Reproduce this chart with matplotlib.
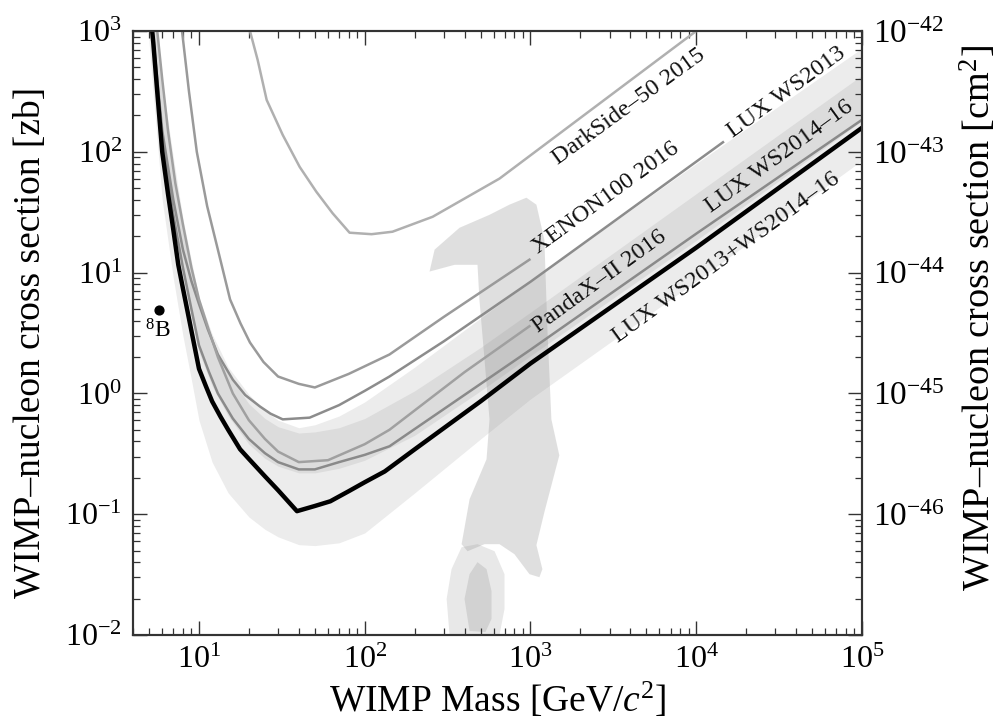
import matplotlib
matplotlib.use("Agg")
import matplotlib.pyplot as plt
from matplotlib.ticker import LogLocator, NullFormatter, FixedLocator, FixedFormatter

plt.rcParams['font.family'] = ['Liberation Serif', 'DejaVu Serif']
plt.rcParams['mathtext.fontset'] = 'custom'
plt.rcParams['mathtext.rm'] = 'Liberation Serif'
plt.rcParams['mathtext.it'] = 'Liberation Serif:italic'

# --- limit curves, WIMP mass [GeV] vs cross section [zb] ---
lux_x = [5.0, 5.3, 5.6, 6.0, 6.5, 7.0, 7.5, 8.0, 9.0, 10.0, 11.0, 12.0, 13.5, 15.0, 17.7, 20.0,
         25.0, 30.0, 39.0, 50.0, 62.0, 80.0, 100.0, 132.0, 200.0, 500.0, 1000.0, 1e4, 1e5]
lux_y = [1860, 800, 313, 100, 45, 22.6, 11.6, 7.4, 3.3, 1.6, 1.15, 0.86, 0.64, 0.50, 0.345, 0.287,
         0.206, 0.158, 0.106, 0.117, 0.128, 0.155, 0.184, 0.226, 0.344, 0.86, 1.77, 16.1, 158]

ws13_x = [5.1, 5.6, 6.0, 7.0, 8.0, 9.0, 10.0, 11.3, 13.0, 16.0, 19.0, 23.3, 27.0, 32.0, 46.5,
          70.0, 100.0, 141.0, 300.0, 1000.0, 3000.0, 14500.0]
ws13_y = [1500, 400, 150, 40, 15.5, 8.5, 5.5, 3.4, 2.1, 1.3, 0.97, 0.78, 0.68, 0.61, 0.63,
          0.8, 1.05, 1.38, 2.7, 8.4, 25, 120]

ws14_x = [5.1, 5.6, 6.0, 7.0, 8.0, 9.0, 10.0, 11.5, 13.0, 16.0, 20.0, 25.0, 30.0, 40.0, 50.0,
          70.0, 100.0, 141.0, 1000.0, 1e4, 1e5]
ws14_y = [1500, 360, 130, 30, 11, 5.0, 2.5, 1.5, 1.0, 0.62, 0.42, 0.32, 0.27, 0.235, 0.235,
          0.27, 0.31, 0.365, 2.3, 21, 184]

pandax_x = [5.6, 6.0, 6.5, 7.2, 8.0, 9.0, 10.0, 11.5, 13.0, 16.0, 20.0, 25.0, 30.0, 40.0, 60.0,
            100.0, 141.0, 400.0, 986.0]
pandax_y = [1000, 400, 150, 55, 25, 11, 6, 3.3, 2, 1.0, 0.6, 0.42, 0.33, 0.27, 0.28,
            0.38, 0.50, 1.5, 3.6]

xenon_x = [7.9, 8.7, 9.7, 11.2, 13.0, 15.4, 17.8, 20.3, 24.5, 30.0, 40.0, 50.0, 80.0, 141.0,
           300.0, 986.0]
xenon_y = [1000, 316, 100, 35.5, 15.5, 6.0, 3.8, 2.64, 1.82, 1.38, 1.2, 1.12, 1.45, 2.1,
           4.3, 12.8]

ds_x = [20.3, 22.6, 25.6, 32.0, 40.5, 51.0, 64.0, 81.0, 110.0, 147.0, 257.0, 650.0, 2600.0, 1e4]
ds_y = [1000, 575, 269, 138, 75, 46.8, 31, 21.4, 20.8, 21.8, 29, 60, 250, 1000]

# --- 1 sigma / 2 sigma sensitivity bands ---
band_x = [5.0, 6.0, 7.0, 8.0, 9.0, 10, 12, 15, 20, 25, 30, 40, 50, 70, 100, 200, 500, 1000, 1e4, 1e5]
outer_lo = [800, 40, 9, 3.0, 1.3, 0.6, 0.27, 0.15, 0.095, 0.075, 0.065, 0.056, 0.055, 0.058,
            0.07, 0.15, 0.42, 0.9, 8.5, 85]
outer_hi = [5500, 380, 90, 28, 12.5, 6.2, 3.1, 1.65, 0.98, 0.72, 0.6, 0.52, 0.55, 0.65,
            0.85, 1.65, 4.2, 8.5, 80, 720]
inner_lo = [2200, 120, 28, 9.5, 4.3, 2.2, 1.15, 0.65, 0.38, 0.29, 0.25, 0.22, 0.22, 0.24,
            0.28, 0.45, 1.05, 2.05, 18.5, 180]
inner_hi = [5000, 300, 70, 23, 10.5, 5.3, 2.7, 1.45, 0.82, 0.62, 0.53, 0.47, 0.48, 0.52,
            0.62, 1.05, 2.4, 4.7, 45, 430]

# --- favoured region (grey blob) ---
blob_x = [945, 1086, 1213, 1265, 1337, 1493, 1213, 1086, 1180, 1132, 986, 800, 650, 528,
          417, 384, 429, 543, 566, 528, 492, 479, 348, 246, 264, 373, 566, 746]
blob_y = [41.7, 36.5, 18.7, 3.38, 0.61, 0.307, 0.104, 0.0555, 0.0351, 0.0301, 0.0319, 0.0467,
          0.0565, 0.0565, 0.0494, 0.0565, 0.133, 0.285, 0.61, 1.91, 5.98, 11.6, 11.6, 10.2,
          15.5, 23.5, 30.1, 36.5]
foot_x = [325, 312, 334, 384, 479, 607, 697, 697, 650]
foot_y = [0.01, 0.0199, 0.0351, 0.0533, 0.0565, 0.0494, 0.0319, 0.0164, 0.01]
egg_x = [429, 400, 429, 479, 543, 582, 582, 535]
egg_y = [0.0108, 0.0199, 0.0319, 0.0401, 0.0351, 0.0231, 0.0136, 0.0106]

# 8B neutrino point
b8_x, b8_y = 5.74, 4.9

# labels: text, x, y (centre)
labels = [
    ("DarkSide\u201350 2015", 3945, 235),
    ("XENON100 2016", 2866, 41.7),
    ("PandaX\u2013II 2016", 2600, 8.4),
    ("LUX WS2013", 35300, 308),
    ("LUX WS2014\u201316", 31600, 91),
    ("LUX WS2013+WS2014\u201316", 15100, 13.3),
]

fig = plt.figure(figsize=(9.98, 7.26), dpi=100)
ax = fig.add_axes([0.1333, 0.1253, 0.7304, 0.832])
ax.set_xscale('log')
ax.set_yscale('log')
ax.set_xlim(4, 1e5)
ax.set_ylim(1e-2, 1e3)

ax.fill_between(band_x, outer_lo, outer_hi, color='#ececec', lw=0, zorder=1)
ax.fill_between(band_x, inner_lo, inner_hi, color='#dcdcdc', lw=0, zorder=1.1)

ax.fill(foot_x, foot_y, color='#e8e8e8', lw=0, zorder=1.2)
ax.fill(blob_x, blob_y, color='0.55', alpha=0.27, lw=0, zorder=1.3)
ax.fill(egg_x, egg_y, color='#d2d2d2', lw=0, zorder=1.4)

ax.plot(ds_x, ds_y, color='#b0b0b0', lw=1.8, zorder=3)
ax.plot(xenon_x, xenon_y, color='#9a9a9a', lw=1.8, zorder=3)
ax.plot(ws13_x, ws13_y, color='#8c8c8c', lw=1.8, zorder=3)
ax.plot(pandax_x, pandax_y, color='#a0a0a0', lw=1.8, zorder=3)
ax.plot(ws14_x, ws14_y, color='#8a8a8a', lw=1.8, zorder=3)
ax.plot(lux_x, lux_y, color='black', lw=3.2, zorder=4)

ax.scatter([b8_x], [b8_y], s=40, color='black', zorder=5)
ax.text(5.62, 3.3, r'$^{8}$B', fontsize=17, ha='center', va='center', zorder=5)

for txt, lx, ly in labels:
    ax.text(lx, ly, txt, fontsize=17.5, rotation=36, rotation_mode='anchor',
            ha='center', va='center', color='#111111', zorder=5)

ax.set_xlabel(r'WIMP Mass [GeV/$c^{2}$]', fontsize=27, labelpad=4)
ax.set_ylabel('WIMP\u2013nucleon cross section [zb]', fontsize=27)
ax.yaxis.set_label_coords(-0.117, 0.485)

ax.xaxis.set_major_locator(LogLocator(base=10, numticks=10))
ax.xaxis.set_minor_locator(LogLocator(base=10, subs=range(2, 10), numticks=50))
ax.xaxis.set_minor_formatter(NullFormatter())
ax.yaxis.set_minor_locator(LogLocator(base=10, subs=range(2, 10), numticks=50))
ax.yaxis.set_minor_formatter(NullFormatter())
ax.tick_params(which='both', direction='in', top=True, right=False, labelsize=23,
               color='#333333')
ax.tick_params(which='major', length=10, width=1.0, pad=8)
ax.tick_params(which='minor', length=5, width=0.9)

ax2 = ax.twinx()
ax2.set_yscale('log')
ax2.set_ylim(1e-47, 1e-42)
ax2.yaxis.set_major_locator(FixedLocator([1e-47, 1e-46, 1e-45, 1e-44, 1e-43, 1e-42]))
ax2.yaxis.set_major_formatter(FixedFormatter(['', r'$10^{-46}$', r'$10^{-45}$', r'$10^{-44}$',
                                              r'$10^{-43}$', r'$10^{-42}$']))
ax2.yaxis.set_minor_locator(LogLocator(base=10, subs=range(2, 10), numticks=50))
ax2.yaxis.set_minor_formatter(NullFormatter())
ax2.tick_params(which='both', direction='in', labelsize=24, color='#333333')
ax2.tick_params(which='major', length=10, width=1.0, pad=8)
ax2.tick_params(which='minor', length=5, width=0.9)
ax2.set_ylabel('WIMP\u2013nucleon cross section [cm$^{2}$]', fontsize=27.5)
ax2.yaxis.set_label_coords(1.132, 0.525)

for a in (ax, ax2):
    for s in a.spines.values():
        s.set_linewidth(1.5)
        s.set_color('#333333')

fig.savefig('out.png', dpi=100)
